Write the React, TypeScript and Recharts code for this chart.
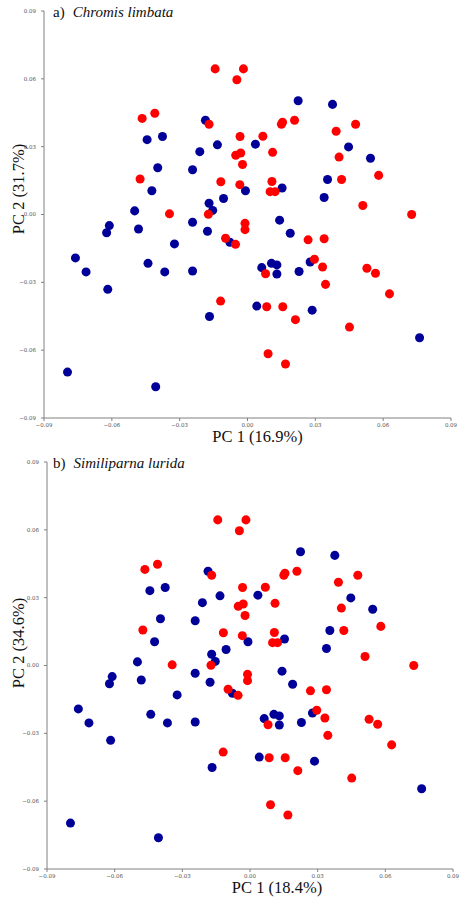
import { ScatterChart, Scatter, XAxis, YAxis, ZAxis } from "recharts";

// PCA scores, one pair of arrays per group (PC1 / PC2)
const BLUE_PC1 = [
  -0.0186, -0.0444, -0.0376, -0.0133, -0.0211, -0.0397, -0.0243, -0.0423, -0.0170, -0.0154,
  -0.0106, -0.0499, -0.0243, -0.0611, -0.0623, -0.0482, -0.0177, -0.0323, -0.0761, -0.0714,
  -0.0440, -0.0366, -0.0243, -0.0618, -0.0168, -0.0796, -0.0406, -0.0078, 0.0224, 0.0376,
  0.0035, 0.0447, 0.0544, 0.0354, 0.0339, -0.0009, 0.0153, 0.0142, 0.0189, 0.0277,
  0.0063, 0.0106, 0.0130, 0.0130, 0.0228, 0.0041, 0.0286, 0.0761,
];
const BLUE_PC2 = [
  0.0417, 0.0331, 0.0345, 0.0308, 0.0278, 0.0207, 0.0198, 0.0105, 0.0050, 0.0018,
  0.0071, 0.0016, -0.0034, -0.0049, -0.0081, -0.0064, -0.0074, -0.0130, -0.0192, -0.0254,
  -0.0216, -0.0254, -0.0250, -0.0331, -0.0451, -0.0697, -0.0762, -0.0123, 0.0503, 0.0487,
  0.0311, 0.0299, 0.0249, 0.0155, 0.0075, 0.0105, 0.0117, -0.0025, -0.0083, -0.0210,
  -0.0235, -0.0216, -0.0223, -0.0263, -0.0252, -0.0405, -0.0423, -0.0545,
];
const RED_PC1 = [
  -0.0143, -0.0466, -0.0410, -0.0170, -0.0475, -0.0118, -0.0345, -0.0173, -0.0097, -0.0119,
  -0.0018, -0.0047, 0.0150, 0.0155, 0.0208, -0.0033, 0.0068, -0.0052, -0.0030, 0.0111,
  -0.0022, 0.0392, 0.0478, 0.0405, 0.0580, 0.0416, -0.0034, 0.0108, 0.0100, 0.0122,
  0.0510, 0.0726, -0.0011, -0.0011, -0.0053, 0.0268, 0.0339, 0.0296, 0.0332, 0.0080,
  0.0345, 0.0528, 0.0566, 0.0628, 0.0085, 0.0156, 0.0212, 0.0451, 0.0091, 0.0168,
];
const RED_PC2 = [
  0.0644, 0.0425, 0.0448, 0.0399, 0.0157, 0.0145, 0.0003, 0.0001, -0.0105, -0.0383,
  0.0644, 0.0596, 0.0399, 0.0408, 0.0417, 0.0345, 0.0346, 0.0262, 0.0272, 0.0275,
  0.0221, 0.0368, 0.0399, 0.0254, 0.0173, 0.0155, 0.0132, 0.0146, 0.0101, 0.0101,
  0.0040, 0.0000, -0.0039, -0.0067, -0.0132, -0.0112, -0.0107, -0.0198, -0.0232, -0.0262,
  -0.0309, -0.0238, -0.0260, -0.0351, -0.0408, -0.0408, -0.0465, -0.0498, -0.0616, -0.0661,
];

const TICKS = [-0.09, -0.06, -0.03, 0, 0.03, 0.06, 0.09];

const toPoints = (xs: number[], ys: number[]) => xs.map((x, i) => ({ x, y: ys[i] }));
const BLUE = toPoints(BLUE_PC1, BLUE_PC2);
const RED = toPoints(RED_PC1, RED_PC2);

const AXIS = "#808080";
const SERIF = "'Liberation Serif', 'Times New Roman', serif";
const tickStyle = { fontSize: 5.5, fill: "#555", fontFamily: "'DejaVu Sans', sans-serif" };

function fmt(v: number) {
  const s = Math.abs(v).toFixed(2);
  return v < 0 ? "\u2212" + s : s;
}

interface PanelProps {
  top: number;
  axisWidth: number;
  right: number;
  tag: string;
  species: string;
  xLabel: string;
  yLabel: string;
  xLabelCx: number;
  yLabelCy: number;
}

function Panel({ top, axisWidth, right, tag, species, xLabel, yLabel, xLabelCx, yLabelCy }: PanelProps) {
  return (
    <>
      <div style={{ position: "absolute", left: 0, top }}>
        <ScatterChart width={459} height={440} margin={{ top: 11, right, bottom: 8, left: 0 }}>
          <XAxis type="number" dataKey="x" domain={[-0.09, 0.09]} ticks={TICKS} interval={0}
            tickFormatter={fmt} height={14} tickSize={3} tickMargin={2}
            axisLine={{ stroke: AXIS }} tickLine={{ stroke: AXIS }} tick={tickStyle} />
          <YAxis type="number" dataKey="y" domain={[-0.09, 0.09]} ticks={TICKS} interval={0}
            tickFormatter={fmt} width={axisWidth} tickSize={3} tickMargin={5}
            axisLine={{ stroke: AXIS }} tickLine={{ stroke: AXIS }} tick={tickStyle} />
          <ZAxis range={[58, 58]} />
          <Scatter data={BLUE} fill="#000099" isAnimationActive={false} />
          <Scatter data={RED} fill="#ff0000" isAnimationActive={false} />
        </ScatterChart>
      </div>
      {/* panel title */}
      <div style={{ position: "absolute", left: 53, top: top + 4, fontFamily: SERIF, fontSize: 15, lineHeight: "16px", color: "#111", whiteSpace: "nowrap" }}>
        {tag}<i style={{ marginLeft: 8 }}>{species}</i>
      </div>
      {/* axis titles */}
      <div style={{ position: "absolute", left: xLabelCx - 80, top: top + 428, width: 160, textAlign: "center",
        fontFamily: SERIF, fontSize: 16.5, lineHeight: "18px", color: "#111" }}>
        {xLabel}
      </div>
      <div style={{ position: "absolute", left: 18.5 - 70, top: yLabelCy - 10, width: 140, height: 20, textAlign: "center",
        fontFamily: SERIF, fontSize: 16.5, lineHeight: "20px", color: "#111", transform: "rotate(-90deg)" }}>
        {yLabel}
      </div>
    </>
  );
}

export default function App() {
  return (
    <div style={{ position: "absolute", left: 0, top: 0, width: 459, height: 898, background: "#fff" }}>
      <Panel top={0} axisWidth={44} right={8} tag="a)" species="Chromis limbata"
        xLabel="PC 1 (16.9%)" yLabel="PC 2 (31.7%)" xLabelCx={257.5} yLabelCy={188.5} />
      <Panel top={451} axisWidth={47} right={6} tag="b)" species="Similiparna lurida"
        xLabel="PC 1 (18.4%)" yLabel="PC 2 (34.6%)" xLabelCx={277} yLabelCy={642.5} />
    </div>
  );
}
